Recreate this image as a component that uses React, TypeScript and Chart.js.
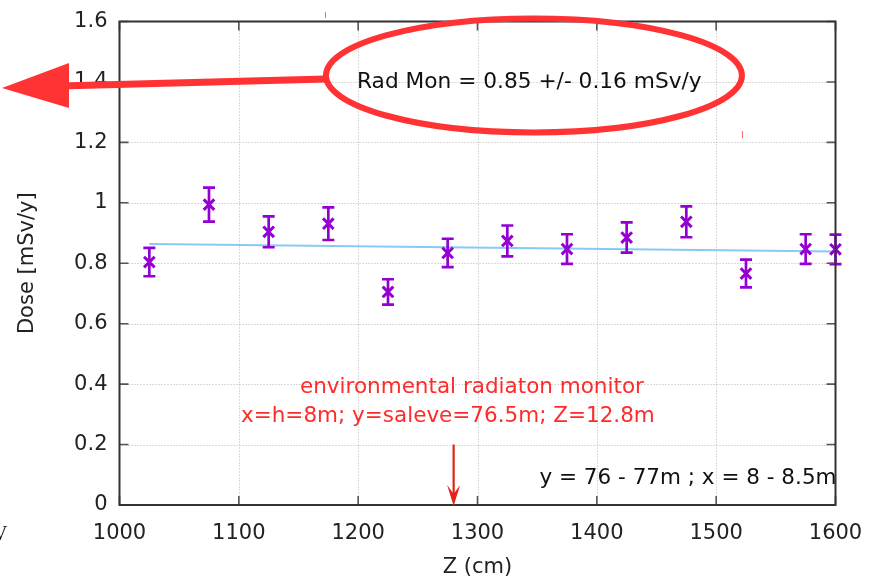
import React, { useEffect, useRef } from "react";
import { Chart, registerables } from "chart.js";

Chart.register(...registerables);

// ---- data ----
const zPositions = [1025, 1075, 1125, 1175, 1225, 1275, 1325, 1375, 1425, 1475, 1525, 1575, 1600];
const doseValues = [0.804, 0.994, 0.904, 0.931, 0.705, 0.834, 0.874, 0.847, 0.885, 0.937, 0.766, 0.847, 0.846];
const doseErrors = [0.047, 0.056, 0.051, 0.054, 0.042, 0.047, 0.051, 0.049, 0.050, 0.051, 0.046, 0.049, 0.049];
const fitZ = [1025, 1600];
const fitDose = [0.864, 0.839];
const xTickValues = [1000, 1100, 1200, 1300, 1400, 1500, 1600];
const yTickValues = [0, 0.2, 0.4, 0.6, 0.8, 1.0, 1.2, 1.4, 1.6];
const monitorZ = 1280;
const monitorArrowTop = 0.2;
const radMonText = "Rad Mon = 0.85 +/- 0.16 mSv/y";
const monitorLine1 = "environmental radiaton monitor";
const monitorLine2 = "x=h=8m; y=saleve=76.5m; Z=12.8m";
const rangeText = "y = 76 - 77m ; x = 8 - 8.5m";
const xTitle = "Z (cm)";
const yTitle = "Dose [mSv/y]";

const FONT = "'DejaVu Sans', sans-serif";
const PURPLE = "#9400d3";
const RED = "#ff3333";

const decoPlugin = {
  id: "deco",
  beforeDatasetsDraw(chart: any) {
    const { ctx, chartArea: a, scales } = chart;
    const x = scales.x, y = scales.y;
    ctx.save();
    ctx.strokeStyle = "#b4b4b4";
    ctx.lineWidth = 1;
    ctx.setLineDash([1, 2]);
    xTickValues.slice(1, -1).forEach((v) => {
      const px = Math.round(x.getPixelForValue(v)) + 0.5;
      ctx.beginPath();
      ctx.moveTo(px, a.top);
      ctx.lineTo(px, a.bottom);
      ctx.stroke();
    });
    yTickValues.slice(1, -1).forEach((v) => {
      const py = Math.round(y.getPixelForValue(v)) + 0.5;
      ctx.beginPath();
      ctx.moveTo(a.left, py);
      ctx.lineTo(a.right, py);
      ctx.stroke();
    });
    ctx.restore();
  },
  afterDatasetsDraw(chart: any) {
    const { ctx, chartArea: a, scales } = chart;
    const x = scales.x, y = scales.y;
    ctx.save();
    // error bars
    ctx.strokeStyle = PURPLE;
    ctx.lineWidth = 2.7;
    zPositions.forEach((z, i) => {
      const px = x.getPixelForValue(z);
      const t = y.getPixelForValue(doseValues[i] + doseErrors[i]);
      const b = y.getPixelForValue(doseValues[i] - doseErrors[i]);
      ctx.beginPath();
      ctx.moveTo(px, t);
      ctx.lineTo(px, b);
      ctx.moveTo(px - 6, t);
      ctx.lineTo(px + 6, t);
      ctx.moveTo(px - 6, b);
      ctx.lineTo(px + 6, b);
      ctx.stroke();
    });
    // ticks (inward, mirrored)
    ctx.strokeStyle = "#555";
    ctx.lineWidth = 1.6;
    xTickValues.forEach((v) => {
      const px = x.getPixelForValue(v);
      ctx.beginPath();
      ctx.moveTo(px, a.bottom);
      ctx.lineTo(px, a.bottom - 9);
      ctx.moveTo(px, a.top);
      ctx.lineTo(px, a.top + 9);
      ctx.stroke();
    });
    yTickValues.forEach((v) => {
      const py = y.getPixelForValue(v);
      ctx.beginPath();
      ctx.moveTo(a.left, py);
      ctx.lineTo(a.left + 9, py);
      ctx.moveTo(a.right, py);
      ctx.lineTo(a.right - 9, py);
      ctx.stroke();
    });
    // frame
    ctx.strokeStyle = "#333";
    ctx.lineWidth = 2;
    ctx.strokeRect(a.left, a.top, a.right - a.left, a.bottom - a.top);
    ctx.restore();
  },
  afterDraw(chart: any) {
    const { ctx, chartArea: a, scales } = chart;
    const x = scales.x, y = scales.y;
    ctx.save();
    // axis titles
    ctx.fillStyle = "#222";
    ctx.font = `21px ${FONT}`;
    ctx.textAlign = "center";
    ctx.textBaseline = "middle";
    ctx.fillText(xTitle, (a.left + a.right) / 2, 568);
    ctx.save();
    ctx.translate(28, (a.top + a.bottom) / 2);
    ctx.rotate(-Math.PI / 2);
    ctx.fillText(yTitle, 0, 0);
    ctx.restore();

    // range text bottom right
    ctx.textAlign = "right";
    ctx.textBaseline = "alphabetic";
    ctx.font = `21.5px ${FONT}`;
    ctx.fillStyle = "#111";
    ctx.fillText(rangeText, a.right + 1, 484);

    // monitor red texts
    ctx.textAlign = "left";
    ctx.fillStyle = "#ff2a2a";
    ctx.fillText(monitorLine1, 300, 393);
    ctx.fillText(monitorLine2, 241, 422);

    // monitor arrow
    const mx = x.getPixelForValue(monitorZ);
    const myTop = y.getPixelForValue(monitorArrowTop);
    const myBot = y.getPixelForValue(0);
    ctx.strokeStyle = "#e02418";
    ctx.fillStyle = "#e02418";
    ctx.lineWidth = 2.2;
    ctx.beginPath();
    ctx.moveTo(mx, myTop);
    ctx.lineTo(mx, myBot - 4);
    ctx.stroke();
    ctx.beginPath();
    ctx.moveTo(mx, myBot + 1);
    ctx.lineTo(mx - 6.5, myBot - 20);
    ctx.lineTo(mx, myBot - 11);
    ctx.lineTo(mx + 6.5, myBot - 20);
    ctx.closePath();
    ctx.fill();

    // Rad Mon text
    ctx.fillStyle = "#111";
    ctx.font = `21.7px ${FONT}`;
    ctx.fillText(radMonText, 357, 88);

    // ellipse
    const ex = x.getPixelForValue(1347.3);
    const ey = y.getPixelForValue(1.4215);
    ctx.strokeStyle = RED;
    ctx.lineWidth = 6;
    ctx.beginPath();
    ctx.ellipse(ex, ey, 208, 57, 0, 0, Math.PI * 2);
    ctx.stroke();

    // big arrow to the left
    ctx.lineWidth = 7;
    ctx.beginPath();
    ctx.moveTo(ex - 208, 79);
    ctx.lineTo(60, 86);
    ctx.stroke();
    ctx.fillStyle = RED;
    ctx.beginPath();
    ctx.moveTo(2, 88);
    ctx.lineTo(69, 63);
    ctx.lineTo(69, 108);
    ctx.closePath();
    ctx.fill();

    // small red marks
    ctx.strokeStyle = "#ff6a6a";
    ctx.lineWidth = 1;
    ctx.beginPath();
    ctx.moveTo(325.5, 12);
    ctx.lineTo(325.5, 18);
    ctx.moveTo(742.5, 131);
    ctx.lineTo(742.5, 138);
    ctx.stroke();

    // stray glyph bottom left
    ctx.fillStyle = "#111";
    ctx.font = `20px 'Liberation Serif', serif`;
    ctx.textAlign = "left";
    ctx.fillText("V", -7, 540);
    ctx.restore();
  },
};

export default function App() {
  const canvasRef = useRef<HTMLCanvasElement | null>(null);

  useEffect(() => {
    const canvas = canvasRef.current;
    if (!canvas) return;
    const points = zPositions.map((z, i) => ({ x: z, y: doseValues[i] }));
    const fit = fitZ.map((z, i) => ({ x: z, y: fitDose[i] }));
    const chart = new Chart(canvas, {
      type: "scatter",
      data: {
        datasets: [
          {
            type: "line",
            data: fit,
            borderColor: "#86cbf2",
            borderWidth: 2,
            pointRadius: 0,
            fill: false,
            order: 2,
          },
          {
            data: points,
            pointStyle: "crossRot",
            pointRadius: 7.5,
            pointBorderWidth: 3,
            borderColor: PURPLE,
            backgroundColor: PURPLE,
            clip: false,
            order: 1,
          },
        ],
      },
      options: {
        animation: false,
        responsive: false,
        devicePixelRatio: 1,
        layout: { padding: { left: 0, top: 21.5, right: 33.5, bottom: 0 } },
        plugins: { legend: { display: false }, tooltip: { enabled: false } },
        scales: {
          x: {
            type: "linear",
            min: 1000,
            max: 1600,
            afterFit: (s: any) => {
              s.height = 76;
              s.paddingLeft = 0;
              s.paddingRight = 0;
            },
            grid: { display: false, drawTicks: false },
            border: { display: false },
            ticks: {
              stepSize: 100,
              padding: 16,
              color: "#222",
              font: { family: FONT, size: 21 },
              callback: (v: any) => String(v),
            },
          },
          y: {
            type: "linear",
            min: 0,
            max: 1.6,
            afterFit: (s: any) => {
              s.width = 119.5;
              s.paddingTop = 0;
              s.paddingBottom = 0;
            },
            grid: { display: false, drawTicks: false },
            border: { display: false },
            ticks: {
              stepSize: 0.2,
              padding: 12,
              color: "#222",
              font: { family: FONT, size: 21 },
              callback: (v: any) => String(Math.round(v * 10) / 10),
            },
          },
        },
      },
      plugins: [decoPlugin],
    });
    return () => chart.destroy();
  }, []);

  return (
    <div style={{ position: "absolute", left: 0, top: 0, width: 869, height: 581, background: "#fff" }}>
      <canvas ref={canvasRef} width={869} height={581} style={{ display: "block" }} />
    </div>
  );
}
